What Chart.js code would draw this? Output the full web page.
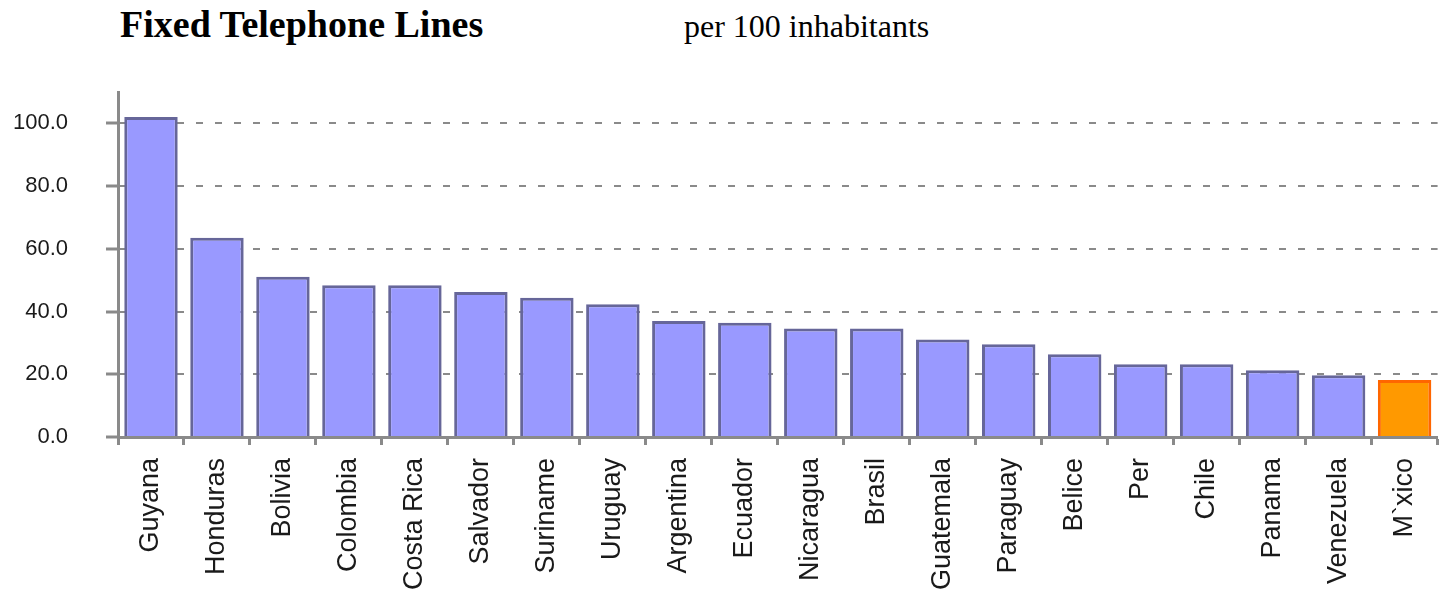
<!DOCTYPE html>
<html>
<head>
<meta charset="utf-8">
<title>Fixed Telephone Lines</title>
<script src="https://cdn.jsdelivr.net/npm/chart.js@4.4.1/dist/chart.umd.min.js"></script>
<style>
  html, body { margin: 0; padding: 0; background: #fff; overflow: hidden; }
  #wrap { position: relative; width: 1443px; height: 590px; overflow: hidden; }
  #chart { position: absolute; left: 0; top: 0; }
  .ttl { position: absolute; white-space: nowrap; color: #000; font-family: "Liberation Serif", "Times New Roman", serif; line-height: 1; }
  #mainTitle { left: 120px; top: 5px; font-size: 38px; font-weight: bold; }
  #subTitle { left: 684px; top: 10px; font-size: 32px; }
</style>
</head>
<body>
<div id="wrap">
  <div class="ttl" id="mainTitle">Fixed Telephone Lines</div>
  <div class="ttl" id="subTitle">per 100 inhabitants</div>
  <canvas id="chart" width="1450" height="590"></canvas>
</div>
<script>
// countries, sorted as in the source chart
const countries = ['Guyana', 'Honduras', 'Bolivia', 'Colombia', 'Costa Rica', 'Salvador', 'Suriname',
  'Uruguay', 'Argentina', 'Ecuador', 'Nicaragua', 'Brasil', 'Guatemala', 'Paraguay', 'Belice',
  'Per', 'Chile', 'Panama', 'Venezuela', 'M`xico'];

// lines per 100 inhabitants
const linesPer100 = [102.0, 63.5, 51.1, 48.4, 48.4, 46.2, 44.4, 42.3, 37.0, 36.4,
  34.6, 34.6, 31.1, 29.6, 26.4, 23.2, 23.2, 21.3, 19.7, 18.2];

const yTicks = [0, 20, 40, 60, 80, 100];

const highlight = 'M`xico';

const axisGray = '#8a8a8a';
const textColor = '#1a1a1a';

const fills = countries.map(c => c === highlight ? '#FF9900' : '#9999FF');
const borders = countries.map(c => c === highlight ? '#FF6600' : '#666699');

const ctx = document.getElementById('chart').getContext('2d');

new Chart(ctx, {
  type: 'bar',
  data: {
    labels: countries,
    datasets: [{
      label: 'Fixed telephone lines',
      data: linesPer100,
      backgroundColor: fills,
      borderColor: borders,
      borderWidth: 3,
      barPercentage: 0.81,
      categoryPercentage: 1.0
    }]
  },
  options: {
    responsive: false,
    animation: false,
    devicePixelRatio: 1,
    layout: { padding: { top: 92, left: 0, right: 0, bottom: 0 } },
    plugins: {
      legend: { display: false },
      tooltip: { enabled: false }
    },
    scales: {
      x: {
        offset: true,
        grid: {
          offset: true,
          drawOnChartArea: false,
          drawTicks: true,
          tickLength: 8,
          tickWidth: 3,
          tickColor: axisGray
        },
        border: { display: true, color: axisGray, width: 3 },
        ticks: {
          autoSkip: false,
          minRotation: 90,
          maxRotation: 90,
          padding: 13,
          color: textColor,
          font: { family: '"Liberation Sans", Arial, sans-serif', size: 27 }
        },
        afterFit: scale => { scale.height = 153; }
      },
      y: {
        min: 0,
        max: 110,
        afterBuildTicks: scale => {
          scale.ticks = yTicks.map(v => ({ value: v }));
        },
        grid: {
          color: c => (c.tick && c.tick.value === 0) ? 'rgba(0,0,0,0)' : axisGray,
          lineWidth: 2,
          tickLength: 12,
          tickWidth: 3,
          tickColor: axisGray,
          tickBorderDash: []
        },
        border: { display: true, color: axisGray, width: 3, dash: [7, 12] },
        ticks: {
          padding: 38,
          color: textColor,
          font: { family: '"Liberation Sans", Arial, sans-serif', size: 22 },
          callback: v => Number(v).toFixed(1)
        },
        afterFit: scale => { scale.width = 118; }
      }
    }
  }
});
</script>
</body>
</html>
